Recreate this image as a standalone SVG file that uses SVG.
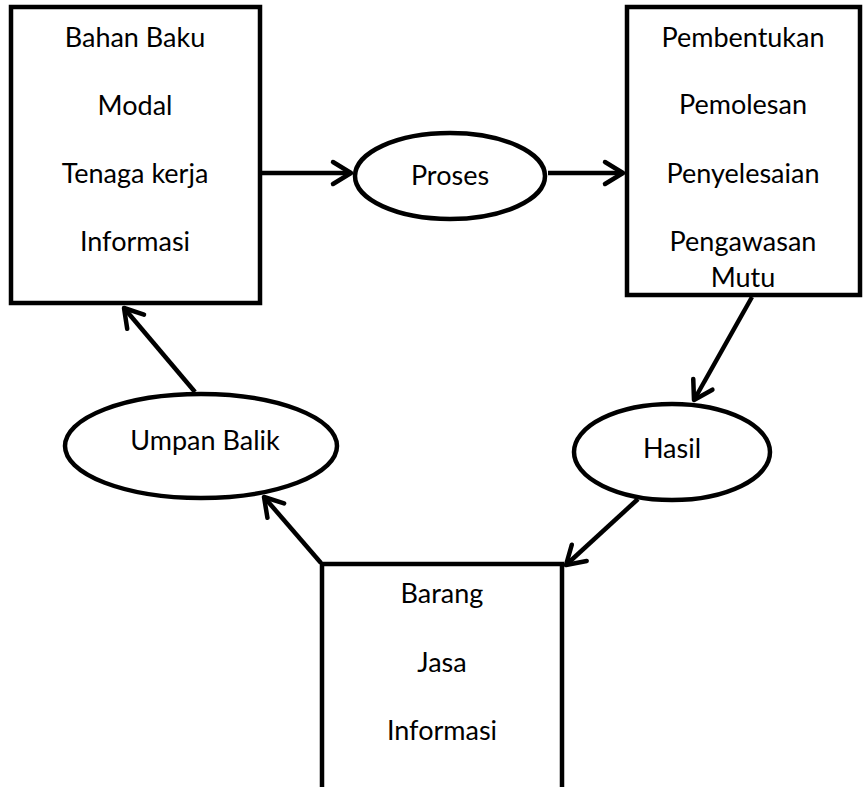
<svg xmlns="http://www.w3.org/2000/svg" width="863" height="787" viewBox="0 0 863 787">
<defs>
<style>
.shape{fill:#fff;stroke:#000;stroke-width:4.5}
.lbl{font-family:Lato,"Liberation Sans",sans-serif;font-size:27px;fill:#000;text-anchor:middle}
.conn{stroke:#000;stroke-width:4.5;fill:none}
</style>
<marker id="arr" markerUnits="userSpaceOnUse" markerWidth="30" markerHeight="30" viewBox="0 0 30 30" refX="24" refY="15" orient="auto">
<path d="M6,4 L24,15 L6,26" fill="none" stroke="#000" stroke-width="4.5" stroke-linecap="round" stroke-linejoin="round"/>
</marker>
</defs>
<rect width="863" height="787" fill="#fff"/>
<g id="connectors">
<line class="conn" x1="262" y1="173" x2="351" y2="173" marker-end="url(#arr)"/>
<line class="conn" x1="548" y1="173" x2="623" y2="173" marker-end="url(#arr)"/>
<line class="conn" x1="752" y1="297" x2="694" y2="400" marker-end="url(#arr)"/>
<line class="conn" x1="638" y1="499" x2="566" y2="565" marker-end="url(#arr)"/>
<line class="conn" x1="195" y1="392" x2="124" y2="308" marker-end="url(#arr)"/>
<line class="conn" x1="321" y1="563" x2="264" y2="497" marker-end="url(#arr)"/>
</g>
<g id="input">
<rect class="shape" x="11" y="7" width="249" height="296"/>
<text class="lbl" x="135" y="47">Bahan Baku</text>
<text class="lbl" x="135" y="115">Modal</text>
<text class="lbl" x="135" y="183">Tenaga kerja</text>
<text class="lbl" x="135" y="251">Informasi</text>
</g>
<g id="proses">
<ellipse class="shape" cx="450" cy="176" rx="95" ry="43"/>
<text class="lbl" x="450" y="185">Proses</text>
</g>
<g id="transformasi">
<rect class="shape" x="627" y="7" width="233" height="288"/>
<text class="lbl" x="743" y="47">Pembentukan</text>
<text class="lbl" x="743" y="114">Pemolesan</text>
<text class="lbl" x="743" y="183">Penyelesaian</text>
<text class="lbl" x="743" y="251">Pengawasan</text>
<text class="lbl" x="743" y="287">Mutu</text>
</g>
<g id="hasil">
<ellipse class="shape" cx="672" cy="452" rx="98" ry="48"/>
<text class="lbl" x="672" y="458">Hasil</text>
</g>
<g id="output">
<path class="shape" d="M322,790 L322,564 L562,564 L562,790"/>
<text class="lbl" x="442" y="603">Barang</text>
<text class="lbl" x="442" y="672">Jasa</text>
<text class="lbl" x="442" y="740">Informasi</text>
</g>
<g id="umpan-balik">
<ellipse class="shape" cx="201" cy="446" rx="136" ry="52"/>
<text class="lbl" x="205" y="450">Umpan Balik</text>
</g>
</svg>
